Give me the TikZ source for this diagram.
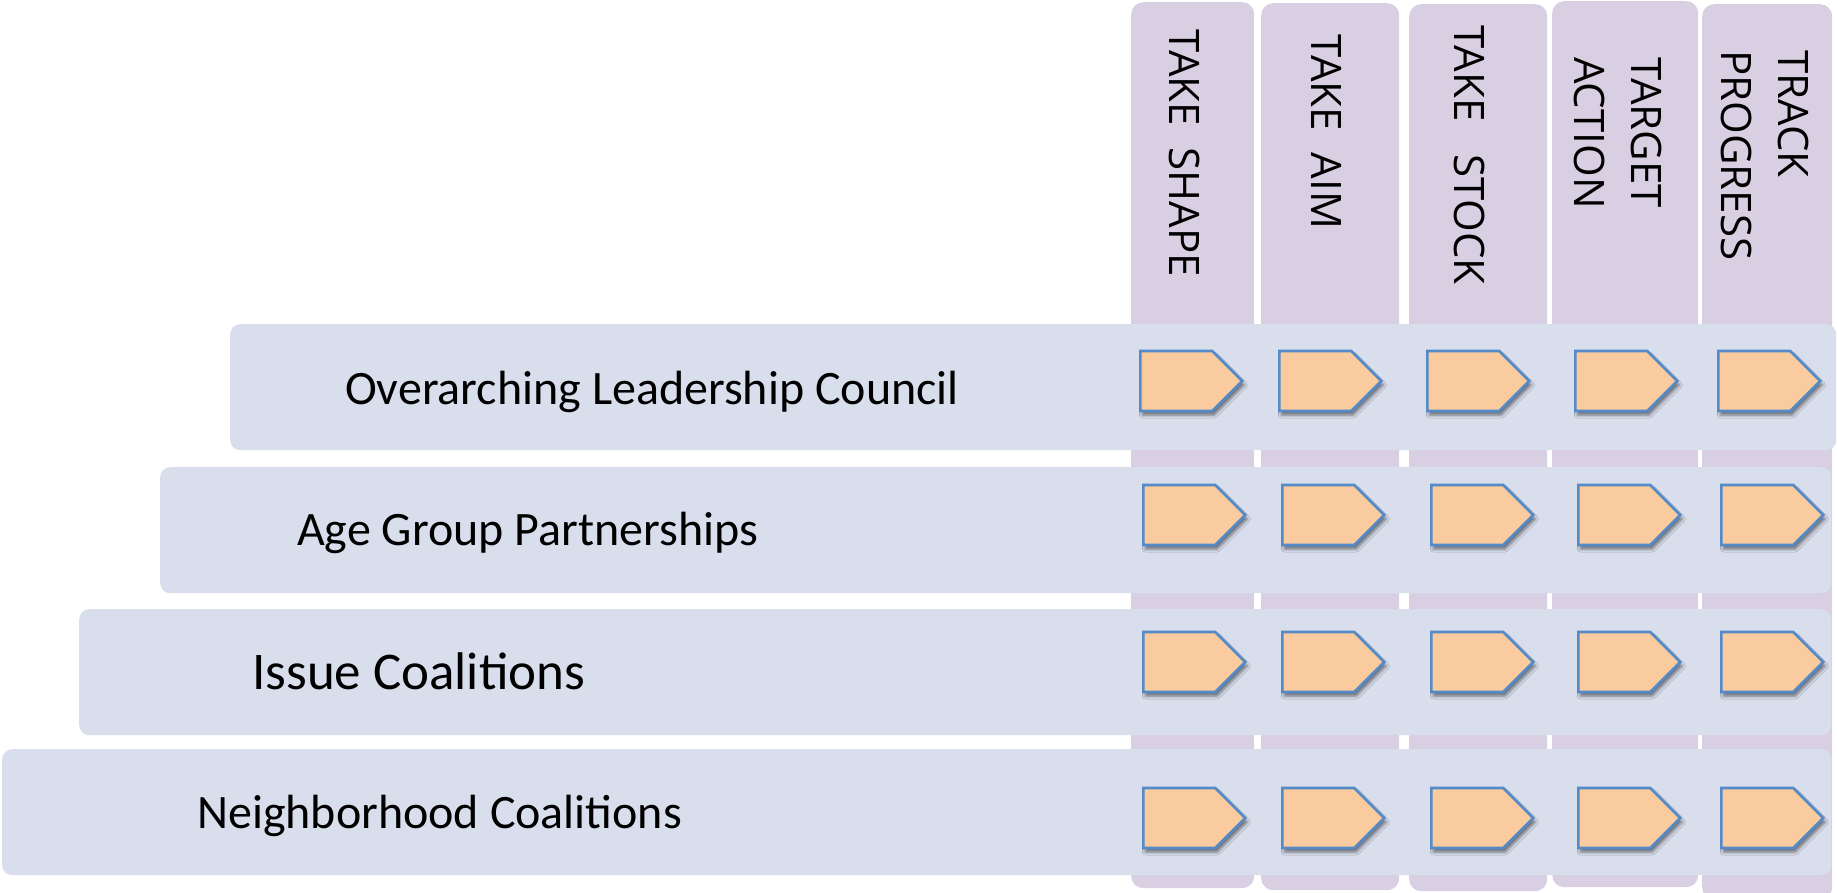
\documentclass[tikz,border=0pt]{standalone}
\usepackage{fontspec}
\setmainfont{Carlito}
\newfontfamily\colfont{Open Sans}
\usetikzlibrary{shapes.symbols,shadows,shadows.blur}
\definecolor{colbg}{RGB}{216,207,226}
\definecolor{rowbg}{RGB}{217,222,236}
\definecolor{arrfill}{RGB}{250,203,158}
\definecolor{arrline}{RGB}{84,138,200}
\begin{document}
\begin{tikzpicture}[x=1pt,y=-1pt,
  colbox/.style={fill=colbg, draw=none, rounded corners=12pt, anchor=north west, inner sep=0pt},
  rowbox/.style={fill=rowbg, draw=none, rounded corners=10pt, anchor=north west, inner sep=0pt},
  rowlabel/.style={anchor=base west, inner sep=0pt, font=\fontsize{48}{56}\selectfont},
  collabel/.style={rotate=-90, inner sep=0pt, font=\colfont\fontsize{42}{57}\selectfont},
  stepsig/.style={signal, signal to=east, signal pointer angle=90, minimum width=102pt, minimum height=60pt, inner sep=0pt, anchor=west, fill=arrfill, draw=arrline, line width=2.6pt, blur shadow={shadow xshift=2pt, shadow yshift=-4pt, shadow blur radius=3pt, shadow opacity=50}}
]
\useasboundingbox (0,0) rectangle (1837,893);
% columns
\node[colbox, minimum width=123pt, minimum height=886pt] (c1) at (1131,2) {};
\node[colbox, minimum width=138pt, minimum height=887pt] (c2) at (1261,3) {};
\node[colbox, minimum width=138pt, minimum height=887pt] (c3) at (1409,4) {};
\node[colbox, minimum width=146pt, minimum height=886pt] (c4) at (1552,1) {};
\node[colbox, minimum width=130pt, minimum height=895pt] (c5) at (1702,4) {};
% column labels
\node[collabel] (t1) at (1184,153.5) {TAKE\ \ SHAPE};
\node[collabel] (t2) at (1327,132) {TAKE\ \ AIM};
\node[collabel] (t3) at (1470,155) {TAKE\ \ \ STOCK};
\node[collabel, align=center] (t4) at (1618,133) {TARGET\\ACTION};
\node[collabel, align=left, anchor=west] (t5) at (1765,50) {TRACK\\PROGRESS};
% rows
\node[rowbox, minimum width=1606pt, minimum height=126pt] (r1) at (230,324) {};
\node[rowbox, minimum width=1671pt, minimum height=126pt] (r2) at (160,467) {};
\node[rowbox, minimum width=1752pt, minimum height=126pt] (r3) at (79,609) {};
\node[rowbox, minimum width=1829pt, minimum height=126pt] (r4) at (2,749) {};
% row labels
\node[rowlabel] (l1) at (345,404) {Overarching Leadership Council};
\node[rowlabel] (l2) at (297,545) {Age Group Partnerships};
\node[rowlabel, font=\fontsize{53}{60}\selectfont] (l3) at (252,689) {Issue Coalitions};
\node[rowlabel] (l4) at (197,828) {Neighborhood Coalitions};
% step arrows
\foreach \x [count=\i] in {1139,1278,1426,1574,1717} {
  \node[stepsig] (p1\i) at (\x,381) {};
}
\foreach \x [count=\i] in {1142,1281,1430,1577,1720} {
  \node[stepsig] (p2\i) at (\x,515) {};
  \node[stepsig] (p3\i) at (\x,662) {};
  \node[stepsig] (p4\i) at (\x,818) {};
}
\end{tikzpicture}
\end{document}
